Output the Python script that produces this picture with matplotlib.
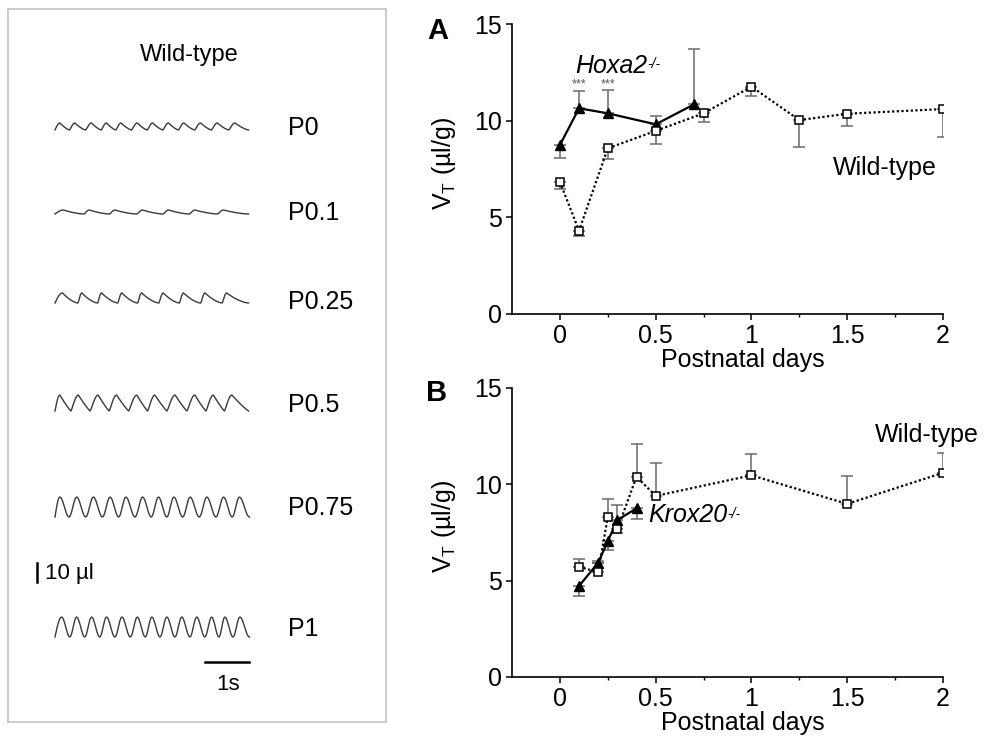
import numpy as np
import matplotlib
matplotlib.use("Agg")
import matplotlib.pyplot as plt
from matplotlib.ticker import FixedLocator

plt.rcParams['font.family'] = ['Liberation Sans', 'DejaVu Sans']
plt.rcParams['mathtext.fontset'] = 'custom'
plt.rcParams['mathtext.rm'] = 'Liberation Sans'
plt.rcParams['mathtext.it'] = 'Liberation Sans:italic'
plt.rcParams['mathtext.default'] = 'regular'

# ---------------- data ----------------
# Panel A
hox_x = [0, 0.1, 0.25, 0.5, 0.7]
hox_y = [8.74, 10.64, 10.38, 9.81, 10.84]
hox_err_lo = [0.69, 0, 0, 0, 0]
hox_err_hi = [0, 0.89, 1.19, 0.45, 2.85]

wtA_x = [0, 0.1, 0.25, 0.5, 0.75, 1, 1.25, 1.5, 2]
wtA_y = [6.83, 4.31, 8.57, 9.47, 10.38, 11.76, 10.03, 10.36, 10.6]
wtA_err_lo = [0.38, 0.26, 0.57, 0.69, 0.47, 0.48, 1.39, 0.64, 1.44]
wtA_err_hi = [0, 0, 0, 0, 0, 0, 0, 0, 0]

# Panel B
krox_x = [0.1, 0.2, 0.25, 0.3, 0.4]
krox_y = [4.72, 5.92, 7.04, 8.13, 8.74]
krox_err_lo = [0.52, 0, 0.47, 0, 0.57]
krox_err_hi = [0, 0.1, 0, 0.76, 0]

wtB_x = [0.1, 0.2, 0.25, 0.3, 0.4, 0.5, 1, 1.5, 2]
wtB_y = [5.71, 5.43, 8.29, 7.65, 10.38, 9.38, 10.45, 8.97, 10.58]
wtB_err_lo = [0, 0, 0, 0.18, 0, 0, 0, 0, 0]
wtB_err_hi = [0.41, 0.47, 0.91, 0, 1.71, 1.72, 1.12, 1.45, 1.05]

x_ticks = [0, 0.5, 1, 1.5, 2]
x_ticklabels = ['0', '0.5', '1', '1.5', '2']
y_ticks = [0, 5, 10, 15]

# Left panel: breathing traces (peak times in s, amplitude in µl)
trace_labels = ['P0', 'P0.1', 'P0.25', 'P0.5', 'P0.75', 'P1']
trace_peaks = [
    [0.11, 0.45, 0.83, 1.17, 1.50, 1.87, 2.22, 2.58, 2.93, 3.31, 3.69, 4.09],
    [0.19, 0.78, 1.36, 1.99, 2.58, 3.18, 3.83],
    [0.17, 0.61, 1.06, 1.52, 1.97, 2.46, 2.92, 3.41, 3.90],
    [0.11, 0.53, 0.98, 1.40, 1.86, 2.27, 2.73, 3.18, 3.60, 4.02],
    [0.11, 0.49, 0.87, 1.25, 1.61, 1.99, 2.35, 2.70, 3.07, 3.45, 3.83, 4.19],
    [0.15, 0.49, 0.83, 1.17, 1.52, 1.87, 2.20, 2.54, 2.88, 3.22, 3.56, 3.86, 4.20],
]
trace_amp = [3.7, 2.1, 5.3, 8.4, 10.5, 10.5]
trace_end = [4.4, 4.4, 4.4, 4.4, 4.42, 4.42]

# ---------------- layout / style ----------------
W, H = 984, 736
fig = plt.figure(figsize=(W / 100, H / 100), dpi=100)

def fx(px):
    return px / W

def fy(py):
    return (H - py) / H

FS = 18
ERR_C = '#6a6a6a'

# ---- left panel ----
box_l, box_r, box_t, box_b = 8, 386, 9, 722
axL = fig.add_axes([fx(box_l), fy(box_b), fx(box_r - box_l), (box_b - box_t) / H])
px_per_s = 44.0
px_per_ul = 1.9
x0_px = 55
axL.set_xlim((box_l - x0_px) / px_per_s, (box_r - x0_px) / px_per_s)
axL.set_ylim(0, (box_b - box_t) / px_per_ul)
axL.set_xticks([])
axL.set_yticks([])
for s in axL.spines.values():
    s.set_color('#c4c4c4')
    s.set_linewidth(1.2)

def ypx(py):
    return (box_b - py) / px_per_ul

def xpx(px):
    return (px - x0_px) / px_per_s

trace_base_px = [130, 214, 303, 411, 517, 637]
label_px = [128, 213, 302, 405, 508, 629]
rise_frac = [0.35, 0.2, 0.2, 0.4, 0.45, 0.45]
decay_exp = [1.4, 1.6, 1.6, 1.15, 1.0, 1.0]
rounded = [False, False, False, False, True, True]

def build_trace(peaks, amp, end, r, p, rnd):
    ts, ys = [0.0], [0.0]
    first = peaks[0]
    s = np.linspace(0, 1, 8)[1:]
    ts += list(s * first)
    ys += list(amp * np.sin(np.pi / 2 * s))
    for i, pk in enumerate(peaks):
        nxt = peaks[i + 1] if i + 1 < len(peaks) else None
        T = (nxt - pk) if nxt is not None else (end - pk) / (1 - r)
        tr = pk + (1 - r) * T
        s = np.linspace(0, 1, 14)[1:]
        seg_t = pk + s * (tr - pk)
        if rnd:
            seg_y = amp * (0.5 + 0.5 * np.cos(np.pi * s))
        else:
            seg_y = amp * (1 - s) ** p
        if nxt is None:
            keep = seg_t <= end
            ts += list(seg_t[keep])
            ys += list(seg_y[keep])
            break
        ts += list(seg_t)
        ys += list(seg_y)
        s = np.linspace(0, 1, 8)[1:]
        ts += list(tr + s * (nxt - tr))
        if rnd:
            ys += list(amp * (0.5 - 0.5 * np.cos(np.pi * s)))
        else:
            ys += list(amp * np.sin(np.pi / 2 * s) ** 1.2)
    return np.array(ts), np.array(ys)

for i, lab in enumerate(trace_labels):
    t, y = build_trace(trace_peaks[i], trace_amp[i], trace_end[i], rise_frac[i],
                       decay_exp[i], rounded[i])
    axL.plot(t, y + ypx(trace_base_px[i]), color='#3a3a3a', lw=1.0)
    axL.text(xpx(288), ypx(label_px[i]), lab, fontsize=FS, ha='left', va='center')

axL.text(xpx(140), ypx(55), 'Wild-type', fontsize=17, ha='left', va='center')
# scale bars
axL.plot([xpx(37), xpx(37)], [ypx(582), ypx(563)], color='black', lw=1.8)
axL.text(xpx(45), ypx(573), '10 µl', fontsize=16, ha='left', va='center')
axL.plot([xpx(249) - 1.0, xpx(249)], [ypx(662), ypx(662)], color='black', lw=1.8)
axL.text(xpx(228), ypx(685), '1s', fontsize=16, ha='center', va='center')

# ---- chart panels ----
def style_axes(ax):
    ax.set_xlim(-0.25, 2)
    ax.set_ylim(0, 15)
    for side in ['top', 'right']:
        ax.spines[side].set_visible(False)
    for side in ['left', 'bottom']:
        ax.spines[side].set_linewidth(1.2)
    ax.set_xticks(x_ticks)
    ax.set_xticklabels(x_ticklabels)
    ax.xaxis.set_minor_locator(FixedLocator([0.25, 0.75, 1.25, 1.75]))
    ax.set_yticks(y_ticks)
    ax.tick_params(axis='both', which='major', direction='out', length=4, width=1.1,
                   labelsize=FS, pad=3)
    ax.tick_params(axis='x', which='minor', direction='out', length=2.5, width=1.0)
    ax.set_xlabel('Postnatal days', fontsize=FS)
    ax.xaxis.set_label_coords(0.535, -0.117)
    ax.set_ylabel('V$_\\mathregular{T}$ (µl/g)', fontsize=FS)
    ax.yaxis.set_label_coords(-0.125, 0.52)

def draw_series(ax, x, y, lo, hi, kind):
    ax.errorbar(x, y, yerr=[lo, hi], fmt='none', ecolor=ERR_C, elinewidth=1.1,
                capsize=4.6, capthick=1.1, zorder=1)
    if kind == 'wt':
        ax.plot(x, y, color='black', lw=1.6, linestyle=(0, (1, 1.1)), zorder=2)
        ax.plot(x, y, linestyle='none', marker='s', ms=5.5, mfc='white', mec='black',
                mew=1.1, zorder=4)
    else:
        ax.plot(x, y, color='black', lw=1.6, linestyle='-', marker='^', ms=7.5,
                mfc='black', mec='black', zorder=3)

def gene_label(ax, x, y, name):
    t = ax.text(x, y, name, fontsize=FS, fontstyle='italic', ha='left', va='center')
    ax.annotate('-/-', xy=(1, 1), xycoords=t, xytext=(0.3, -2.5), textcoords='offset points',
                fontsize=10, fontstyle='italic', ha='left', va='top')

axA = fig.add_axes([fx(512), fy(314), fx(943 - 512), 290 / H])
style_axes(axA)
draw_series(axA, wtA_x, wtA_y, wtA_err_lo, wtA_err_hi, 'wt')
draw_series(axA, hox_x, hox_y, hox_err_lo, hox_err_hi, 'mut')
gene_label(axA, 0.08, 12.83, 'Hoxa2')
for xs in [0.1, 0.25]:
    axA.text(xs, 11.85, '***', fontsize=9, ha='center', va='center', color='#555555')
axA.text(1.97, 7.55, 'Wild-type', fontsize=FS, ha='right', va='center')
fig.text(fx(438), fy(31), 'A', fontsize=21, fontweight='bold', ha='center', va='center')

axB = fig.add_axes([fx(512), fy(677), fx(943 - 512), 289.5 / H])
style_axes(axB)
draw_series(axB, wtB_x, wtB_y, wtB_err_lo, wtB_err_hi, 'wt')
draw_series(axB, krox_x, krox_y, krox_err_lo, krox_err_hi, 'mut')
gene_label(axB, 0.46, 8.39, 'Krox20')
axB.text(1.646, 12.54, 'Wild-type', fontsize=FS, ha='left', va='center', clip_on=False)
fig.text(fx(437), fy(393), 'B', fontsize=21, fontweight='bold', ha='center', va='center')

fig.savefig('out.png', dpi=100)
